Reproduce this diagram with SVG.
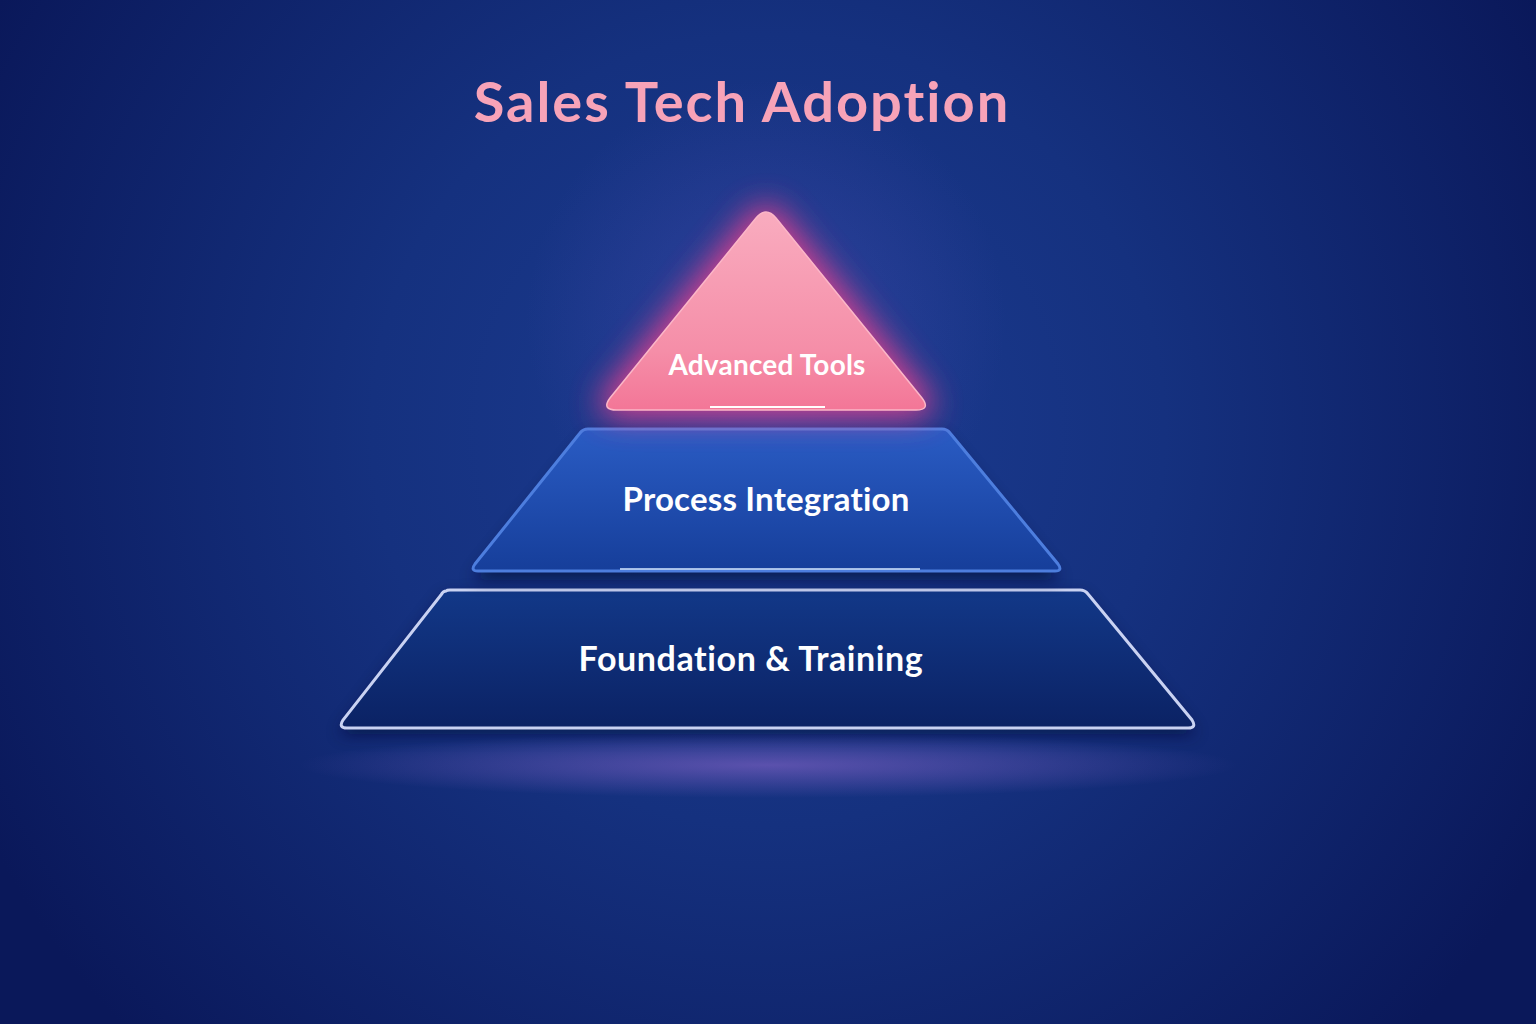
<svg xmlns="http://www.w3.org/2000/svg" width="1536" height="1024" viewBox="0 0 1536 1024">
<defs>
<radialGradient id="bg" cx="768" cy="430" r="880" gradientUnits="userSpaceOnUse">
<stop offset="0" stop-color="#1c3c92"/>
<stop offset="0.45" stop-color="#15317f"/>
<stop offset="1" stop-color="#0a185a"/>
</radialGradient>
<radialGradient id="halo" cx="766" cy="320" r="240" gradientUnits="userSpaceOnUse">
<stop offset="0" stop-color="#4a4cb0" stop-opacity="0.45"/>
<stop offset="1" stop-color="#4a4cb0" stop-opacity="0"/>
</radialGradient>
<radialGradient id="floor" cx="768" cy="765" r="470" gradientTransform="matrix(1 0 0 0.07 0 711.5)" gradientUnits="userSpaceOnUse">
<stop offset="0" stop-color="#a070d8" stop-opacity="0.5"/>
<stop offset="1" stop-color="#a070d8" stop-opacity="0"/>
</radialGradient>
<linearGradient id="tri" x1="0" y1="0" x2="0" y2="1">
<stop offset="0" stop-color="#f9acbf"/>
<stop offset="0.7" stop-color="#f58ea8"/>
<stop offset="1" stop-color="#f37697"/>
</linearGradient>
<linearGradient id="mid" x1="0" y1="0" x2="0" y2="1">
<stop offset="0" stop-color="#2a5cc4"/>
<stop offset="1" stop-color="#163e9a"/>
</linearGradient>
<linearGradient id="base" x1="0" y1="0" x2="0" y2="1">
<stop offset="0" stop-color="#123888"/>
<stop offset="1" stop-color="#0b2264"/>
</linearGradient>
<filter id="glow" x="-50%" y="-50%" width="200%" height="200%">
<feGaussianBlur stdDeviation="16"/>
</filter>
<filter id="soft" x="-20%" y="-300%" width="140%" height="700%">
<feGaussianBlur stdDeviation="4"/>
</filter>
<filter id="shadow" x="-10%" y="-30%" width="120%" height="160%">
<feGaussianBlur stdDeviation="8"/>
</filter>
</defs>
<style>
.lbl{font-family:Lato,"Open Sans","Noto Sans",sans-serif;font-weight:700;fill:#ffffff;text-anchor:middle;font-variant-ligatures:none}
.title{font-family:Lato,"Open Sans","Noto Sans",sans-serif;font-weight:700;fill:#f7a3b8;text-anchor:middle;font-size:56px;letter-spacing:2px;font-variant-ligatures:none}
</style>
<rect width="1536" height="1024" fill="url(#bg)"/>
<rect width="1536" height="1024" fill="url(#halo)"/>
<ellipse cx="768" cy="765" rx="470" ry="33" fill="url(#floor)"/>
<text class="title" x="742" y="122">Sales Tech Adoption</text>

<g id="node-foundation">
<path d="M446 596 L1082 596 L1196 734 L339 734 Z" fill="#040c34" opacity="0.65" filter="url(#shadow)"/>
<path d="M446 591 Q447 590 450 590 L1080 590 Q1085 590 1088 594 L1192 720 Q1197 728 1188 728 L347 728 Q338 728 343 720 L441 595 Q443 591 446 591 Z" fill="url(#base)" stroke="#c9d2f2" stroke-width="3"/>
<text class="lbl" x="751" y="671" font-size="34" letter-spacing="0.6">Foundation &amp; Training</text>
</g>

<g id="node-process">
<path d="M590 436 L942 436 L1060 580 L472 580 Z" fill="#040c34" opacity="0.65" filter="url(#shadow)"/>
<path d="M588 429 L942 429 Q947 429 950 433 L1058 564 Q1063 571 1055 571 L478 571 Q470 571 475 564 L580 433 Q583 429 588 429 Z" fill="url(#mid)" stroke="#4d7ede" stroke-width="3"/>
<line x1="540" y1="569" x2="1000" y2="569" stroke="#7fb0ff" stroke-width="4" filter="url(#soft)"/>
<line x1="620" y1="569" x2="920" y2="569" stroke="#d6e8ff" stroke-width="1.5"/>
<text class="lbl" x="766" y="511" font-size="33" letter-spacing="0.2">Process Integration</text>
</g>

<g id="node-advanced">
<path d="M756 218 Q766 206 776 218 L922 398 Q931 410 916 410 L617 410 Q601 410 610 398 Z" fill="#f0408c" stroke="#f0408c" stroke-width="14" opacity="0.9" filter="url(#glow)"/>
<path d="M756 218 Q766 206 776 218 L922 398 Q931 410 916 410 L617 410 Q601 410 610 398 Z" fill="url(#tri)" stroke="#fbb7c8" stroke-width="1.5"/>
<line x1="650" y1="407" x2="885" y2="407" stroke="#ffe4ee" stroke-width="5" filter="url(#soft)"/>
<line x1="710" y1="407" x2="825" y2="407" stroke="#ffffff" stroke-width="2"/>
<text class="lbl" x="767" y="375" font-size="28" letter-spacing="0.2">Advanced Tools</text>
</g>

<g id="connectors"></g>
</svg>
